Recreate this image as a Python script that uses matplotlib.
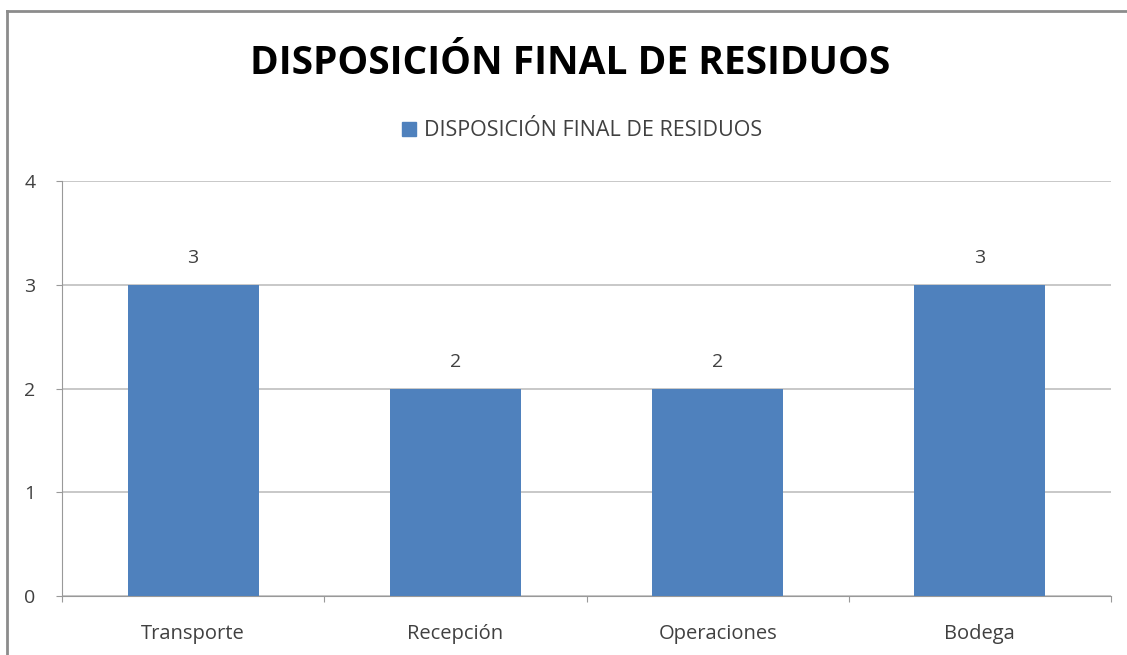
import matplotlib.pyplot as plt
from matplotlib.lines import Line2D

categories = ["Transporte", "Recepción", "Operaciones", "Bodega"]
values = [3, 2, 2, 3]
series_name = "DISPOSICIÓN FINAL DE RESIDUOS"
title = "DISPOSICIÓN FINAL DE RESIDUOS"
y_ticks = [0, 1, 2, 3, 4]

bar_color = "#4F81BD"
text_gray = "#404040"
line_gray = "#BFBFBF"

plt.rcParams['font.family'] = ['Open Sans', 'DejaVu Sans']

fig = plt.figure(figsize=(11.27, 6.55), dpi=100)
ax = fig.add_axes([62 / 1127, 59 / 655, 1049 / 1127, 415 / 655])

x = list(range(len(categories)))
bars = ax.bar(x, values, width=0.5, color=bar_color, zorder=3)

ax.set_xlim(-0.5, len(categories) - 0.5)
ax.set_ylim(0, 4)
ax.set_yticks(y_ticks)
ax.set_yticklabels([str(v) for v in y_ticks], fontsize=14, color=text_gray)
ax.yaxis.grid(True, color=line_gray, linewidth=1.2, zorder=0)

# category labels sit between the tick marks
ax.set_xticks([i - 0.5 for i in range(len(categories) + 1)])
ax.set_xticklabels([])
ax.set_xticks(x, minor=True)
ax.set_xticklabels(categories, minor=True, fontsize=14.5, color=text_gray)
ax.tick_params(axis='x', which='minor', length=0, pad=20)
ax.tick_params(axis='x', which='major', length=4, color="#999999", direction='out')
ax.tick_params(axis='y', length=4, color="#999999", direction='out', pad=15)

for s in ["top", "right"]:
    ax.spines[s].set_visible(False)
ax.spines["left"].set_color("#999999")
ax.spines["bottom"].set_color("#999999")

for b, v in zip(bars, values):
    ax.text(b.get_x() + b.get_width() / 2, v + 0.26, str(v), ha='center', va='center',
            fontsize=14, color=text_gray)

fig.text(0.506, 1 - 64 / 655, title, ha='center', va='center', fontsize=28,
         fontweight='bold', color='black')

handle = Line2D([], [], marker='s', linestyle='none', markersize=9.5,
                markerfacecolor=bar_color, markeredgecolor=bar_color)
fig.legend([handle], [series_name], loc='center', bbox_to_anchor=(0.51, 1 - 131 / 655),
           frameon=False, fontsize=15.5, handletextpad=-0.3, labelcolor=text_gray)

# outer chart border (left and top visible)
fig.add_artist(Line2D([7 / 1127, 7 / 1127], [0, 1 - 11 / 655], transform=fig.transFigure,
                      color="#8C8C8C", linewidth=2))
fig.add_artist(Line2D([7 / 1127, 1], [1 - 11 / 655, 1 - 11 / 655], transform=fig.transFigure,
                      color="#8C8C8C", linewidth=2))

fig.savefig("out.png", dpi=100)
